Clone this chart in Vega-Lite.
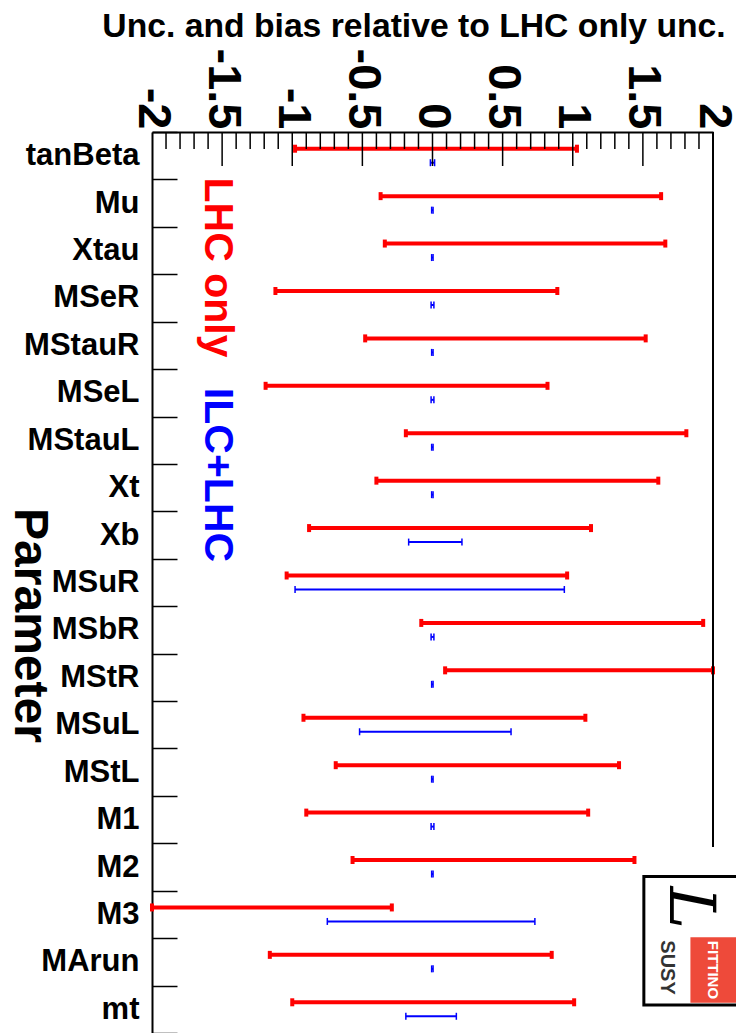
{
  "$schema": "https://vega.github.io/schema/vega-lite/v6.json",
  "width": 561,
  "height": 901,
  "autosize": {"type": "none"},
  "padding": {"left": 152, "top": 132, "right": 23, "bottom": 0},
  "background": "white",
  "config": {"view": {"stroke": null}},
  "datasets": {
    "lhc": [
      {"param": "tanBeta", "lo": -0.98, "hi": 1.03},
      {"param": "Mu", "lo": -0.37, "hi": 1.63},
      {"param": "Xtau", "lo": -0.34, "hi": 1.66},
      {"param": "MSeR", "lo": -1.12, "hi": 0.89},
      {"param": "MStauR", "lo": -0.48, "hi": 1.52},
      {"param": "MSeL", "lo": -1.19, "hi": 0.82},
      {"param": "MStauL", "lo": -0.19, "hi": 1.81},
      {"param": "Xt", "lo": -0.4, "hi": 1.61},
      {"param": "Xb", "lo": -0.88, "hi": 1.13},
      {"param": "MSuR", "lo": -1.04, "hi": 0.96},
      {"param": "MSbR", "lo": -0.08, "hi": 1.93},
      {"param": "MStR", "lo": 0.09, "hi": 2.0},
      {"param": "MSuL", "lo": -0.92, "hi": 1.09},
      {"param": "MStL", "lo": -0.69, "hi": 1.33},
      {"param": "M1", "lo": -0.9, "hi": 1.11},
      {"param": "M2", "lo": -0.57, "hi": 1.44},
      {"param": "M3", "lo": -2.0, "hi": -0.29},
      {"param": "MArun", "lo": -1.16, "hi": 0.85},
      {"param": "mt", "lo": -1.0, "hi": 1.01}
    ],
    "ilc": [
      {"param": "tanBeta", "lo": -0.015, "hi": 0.015},
      {"param": "Mu", "lo": -0.006, "hi": 0.004},
      {"param": "Xtau", "lo": -0.006, "hi": 0.004},
      {"param": "MSeR", "lo": -0.01, "hi": 0.01},
      {"param": "MStauR", "lo": -0.006, "hi": 0.004},
      {"param": "MSeL", "lo": -0.01, "hi": 0.01},
      {"param": "MStauL", "lo": -0.006, "hi": 0.004},
      {"param": "Xt", "lo": -0.006, "hi": 0.004},
      {"param": "Xb", "lo": -0.17, "hi": 0.21},
      {"param": "MSuR", "lo": -0.98, "hi": 0.94},
      {"param": "MSbR", "lo": -0.01, "hi": 0.01},
      {"param": "MStR", "lo": -0.006, "hi": 0.004},
      {"param": "MSuL", "lo": -0.52, "hi": 0.56},
      {"param": "MStL", "lo": -0.006, "hi": 0.004},
      {"param": "M1", "lo": -0.01, "hi": 0.01},
      {"param": "M2", "lo": -0.006, "hi": 0.004},
      {"param": "M3", "lo": -0.75, "hi": 0.73},
      {"param": "MArun", "lo": -0.006, "hi": 0.004},
      {"param": "mt", "lo": -0.19, "hi": 0.17}
    ],
    "majorTicks": [{"v": -1.5}, {"v": -1}, {"v": -0.5}, {"v": 0}, {"v": 0.5}, {"v": 1}, {"v": 1.5}],
    "minorTicks": [{"v": -1.9}, {"v": -1.8}, {"v": -1.7}, {"v": -1.6}, {"v": -1.4}, {"v": -1.3}, {"v": -1.2}, {"v": -1.1}, {"v": -0.9}, {"v": -0.8}, {"v": -0.7}, {"v": -0.6}, {"v": -0.4}, {"v": -0.3}, {"v": -0.2}, {"v": -0.1}, {"v": 0.1}, {"v": 0.2}, {"v": 0.3}, {"v": 0.4}, {"v": 0.6}, {"v": 0.7}, {"v": 0.8}, {"v": 0.9}, {"v": 1.1}, {"v": 1.2}, {"v": 1.3}, {"v": 1.4}, {"v": 1.6}, {"v": 1.7}, {"v": 1.8}, {"v": 1.9}]
  },
  "layer": [
    {
      "layer": [
        {
          "data": {"name": "lhc"},
          "mark": {"type": "rule", "color": "#ff0000", "strokeWidth": 4, "yOffset": -7},
          "encoding": {
            "x": {
              "field": "lo", "type": "quantitative",
              "scale": {"domain": [-2, 2], "nice": false, "zero": false},
              "axis": {
                "orient": "top",
                "values": [-2, -1.5, -1, -0.5, 0, 0.5, 1, 1.5, 2],
                "ticks": false,
                "labelExpr": "'' + datum.value",
                "labelAngle": 90,
                "labelAlign": "right",
                "labelBaseline": "middle",
                "labelFont": "Liberation Sans",
                "labelFontSize": 47,
                "labelFontWeight": "bold",
                "labelColor": "black",
                "labelPadding": 3,
                "labelOverlap": false,
                "labelSeparation": 0,
                "labelFlush": false,
                "labelBound": false,
                "labelLimit": 0,
                "domainColor": "black",
                "domainWidth": 2,
                "grid": false,
                "title": "Unc. and bias relative to LHC only unc.",
                "titleFont": "Liberation Sans",
                "titleFontSize": 33.7,
                "titleFontWeight": "bold",
                "titleColor": "black",
                "titleX": 261.5,
                "titleY": -96,
                "titleAlign": "center",
                "titleBaseline": "alphabetic",
                "titleAngle": 0
              }
            },
            "x2": {"field": "hi"},
            "y": {
              "field": "param", "type": "nominal",
              "scale": {"type": "band", "domain": ["tanBeta", "Mu", "Xtau", "MSeR", "MStauR", "MSeL", "MStauL", "Xt", "Xb", "MSuR", "MSbR", "MStR", "MSuL", "MStL", "M1", "M2", "M3", "MArun", "mt"], "paddingInner": 0, "paddingOuter": 0},
              "axis": {
                "orient": "left",
                "tickBand": "extent",
                "tickSize": -25,
                "tickWidth": 1.5,
                "tickColor": "black",
                "domainColor": "black",
                "domainWidth": 2,
                "labelFont": "Liberation Sans",
                "labelFontSize": 31,
                "labelFontWeight": "bold",
                "labelColor": "black",
                "labelPadding": 38,
                "labelAlign": "right",
                "labelBaseline": "middle",
                "labelLimit": 300,
                "grid": false,
                "title": "Parameter",
                "titleAngle": 90,
                "titleFont": "Liberation Sans",
                "titleFontSize": 48,
                "titleFontWeight": "bold",
                "titleColor": "black",
                "titleX": -124,
                "titleY": 493,
                "titleAlign": "center",
                "titleBaseline": "middle"
              }
            }
          }
        },
        {
          "data": {"name": "lhc"},
          "mark": {"type": "tick", "orient": "vertical", "color": "#ff0000", "thickness": 4, "size": 8, "yOffset": -7, "opacity": 1},
          "encoding": {"x": {"field": "lo", "type": "quantitative"}, "y": {"field": "param", "type": "nominal"}}
        },
        {
          "data": {"name": "lhc"},
          "mark": {"type": "tick", "orient": "vertical", "color": "#ff0000", "thickness": 4, "size": 8, "yOffset": -7, "opacity": 1},
          "encoding": {"x": {"field": "hi", "type": "quantitative"}, "y": {"field": "param", "type": "nominal"}}
        },
        {
          "data": {"name": "ilc"},
          "mark": {"type": "rule", "color": "#0000ff", "strokeWidth": 2, "yOffset": 7},
          "encoding": {"x": {"field": "lo", "type": "quantitative"}, "x2": {"field": "hi"}, "y": {"field": "param", "type": "nominal"}}
        },
        {
          "data": {"name": "ilc"},
          "mark": {"type": "tick", "orient": "vertical", "color": "#0000ff", "thickness": 1.5, "size": 7, "yOffset": 7, "opacity": 1},
          "encoding": {"x": {"field": "lo", "type": "quantitative"}, "y": {"field": "param", "type": "nominal"}}
        },
        {
          "data": {"name": "ilc"},
          "mark": {"type": "tick", "orient": "vertical", "color": "#0000ff", "thickness": 1.5, "size": 7, "yOffset": 7, "opacity": 1},
          "encoding": {"x": {"field": "hi", "type": "quantitative"}, "y": {"field": "param", "type": "nominal"}}
        }
      ]
    },
    {
      "layer": [
        {
          "data": {"values": [{"x": 2, "row": 0, "row2": 15.08}]},
          "mark": {"type": "rule", "color": "black", "strokeWidth": 2},
          "encoding": {
            "x": {"field": "x", "type": "quantitative"},
            "y": {"field": "row", "type": "quantitative", "scale": {"domain": [0, 19], "reverse": true, "nice": false, "zero": false}, "axis": null},
            "y2": {"field": "row2"}
          }
        },
        {
          "data": {"name": "majorTicks"},
          "mark": {"type": "rule", "color": "black", "strokeWidth": 1.5},
          "encoding": {
            "x": {"field": "v", "type": "quantitative"},
            "y": {"datum": 0, "type": "quantitative", "axis": null},
            "y2": {"datum": 0.717}
          }
        },
        {
          "data": {"name": "minorTicks"},
          "mark": {"type": "rule", "color": "black", "strokeWidth": 1.5},
          "encoding": {
            "x": {"field": "v", "type": "quantitative"},
            "y": {"datum": 0, "type": "quantitative", "axis": null},
            "y2": {"datum": 0.358}
          }
        },
        {
          "data": {"values": [
            {"label": "LHC only", "series": "LHC only", "x": -1.62, "row": 2.857},
            {"label": "ILC+LHC", "series": "ILC+LHC", "x": -1.62, "row": 7.233}
          ]},
          "mark": {"type": "text", "angle": 90, "align": "center", "baseline": "alphabetic", "font": "Liberation Sans", "fontSize": 41, "fontWeight": "bold"},
          "encoding": {
            "x": {"field": "x", "type": "quantitative"},
            "y": {"field": "row", "type": "quantitative", "axis": null},
            "text": {"field": "label"},
            "color": {"field": "series", "type": "nominal", "scale": {"domain": ["LHC only", "ILC+LHC"], "range": ["#ff0000", "#0000ff"]}, "legend": null}
          }
        },
        {
          "data": {"values": [{"x": 1.507, "x2": 2.2, "row": 15.7, "row2": 18.41}]},
          "mark": {"type": "rect", "fill": "white", "stroke": "black", "strokeWidth": 3, "clip": false},
          "encoding": {
            "x": {"field": "x", "type": "quantitative"}, "x2": {"field": "x2"},
            "y": {"field": "row", "type": "quantitative", "axis": null}, "y2": {"field": "row2"}
          }
        },
        {
          "data": {"values": [{"x": 1.839, "x2": 2.2, "row": 16.98, "row2": 18.36}]},
          "mark": {"type": "rect", "fill": "#ee4a3a", "clip": false},
          "encoding": {
            "x": {"field": "x", "type": "quantitative"}, "x2": {"field": "x2"},
            "y": {"field": "row", "type": "quantitative", "axis": null}, "y2": {"field": "row2"}
          }
        },
        {
          "data": {"values": [{"label": "FITTINO", "x": 1.998, "row": 17.67}]},
          "mark": {"type": "text", "angle": 90, "align": "center", "baseline": "middle", "font": "Liberation Sans", "fontSize": 15, "fontWeight": "bold", "color": "white"},
          "encoding": {"x": {"field": "x", "type": "quantitative"}, "y": {"field": "row", "type": "quantitative", "axis": null}, "text": {"field": "label"}}
        },
        {
          "data": {"values": [{"label": "SUSY", "x": 1.669, "row": 17.62}]},
          "mark": {"type": "text", "angle": 90, "align": "center", "baseline": "middle", "font": "Liberation Sans", "fontSize": 20, "fontWeight": "bold", "color": "#333333"},
          "encoding": {"x": {"field": "x", "type": "quantitative"}, "y": {"field": "row", "type": "quantitative", "axis": null}, "text": {"field": "label"}}
        },
        {
          "data": {"values": [{"label": "L", "x": 1.83, "row": 16.36}]},
          "mark": {"type": "text", "angle": 90, "align": "center", "baseline": "middle", "font": "DejaVu Serif", "fontSize": 64, "fontStyle": "italic", "color": "black"},
          "encoding": {"x": {"field": "x", "type": "quantitative"}, "y": {"field": "row", "type": "quantitative", "axis": null}, "text": {"field": "label"}}
        }
      ]
    }
  ],
  "resolve": {"scale": {"y": "independent", "color": "independent"}, "axis": {"y": "independent"}}
}
